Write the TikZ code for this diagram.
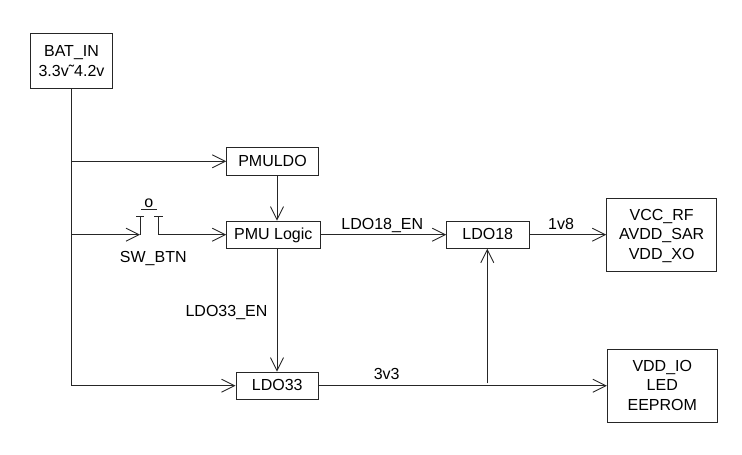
\documentclass[tikz,border=0pt]{standalone}
\usepackage{fontspec}
\setmainfont{Liberation Sans}
\usetikzlibrary{arrows.meta,calc}
\newcommand{\boxstrut}{\rule[-3pt]{0pt}{16.5pt}}
\tikzset{
  blockbox/.style={draw=black!85,line width=0.9pt,fill=white,inner sep=0pt,align=center,font=\fontsize{16}{19.3}\selectfont},
  wire/.style={draw=black!85,line width=0.9pt},
  arrowwire/.style={wire,-{Straight Barb[length=13pt,width=13pt,line width=0.9pt]}},
  lbl/.style={inner sep=0pt,anchor=base,font=\fontsize{16}{19}\selectfont},
}
\begin{document}
\begin{tikzpicture}[x=1pt,y=-1pt]
\useasboundingbox (0,0) rectangle (742,455);
\node[blockbox,minimum width=82.7pt,minimum height=55pt,font=\fontsize{16}{20}\selectfont] (bat) at (71.5,60.8) {\boxstrut BAT\_IN\\\boxstrut 3.3v˜4.2v};
\node[blockbox,minimum width=91.6pt,minimum height=27.3pt] (pmuldo) at (272.5,161.3) {\boxstrut PMULDO};
\node[blockbox,minimum width=93.3pt,minimum height=27.3pt] (pmu) at (273.3,234.7) {\boxstrut PMU Logic};
\node[blockbox,minimum width=82.3pt,minimum height=27.3pt] (ldo18) at (487.8,234.7) {\boxstrut LDO18};
\node[blockbox,minimum width=82.7pt,minimum height=27.3pt] (ldo33) at (277.3,385.7) {\boxstrut LDO33};
\node[blockbox,minimum width=110pt,minimum height=72.7pt] (vcc) at (661.7,234.7) {\boxstrut VCC\_RF\\\boxstrut AVDD\_SAR\\\boxstrut VDD\_XO};
\node[blockbox,minimum width=110pt,minimum height=73pt] (vdd) at (662.3,385.7) {\boxstrut VDD\_IO\\\boxstrut LED\\\boxstrut EEPROM};
% free points
\coordinate (j1) at (71.5,161.3);
\coordinate (j2) at (71.5,234.7);
\coordinate (j3) at (71.5,385.7);
\coordinate (swl) at (140,234.7);
\coordinate (swlt) at (140,216.3);
\coordinate (swr) at (158.3,234.7);
\coordinate (swrt) at (158.3,216.3);
\coordinate (v1) at (277,0);
\coordinate (tap) at (487.3,383.3);
% connectors
\draw[wire] (bat.south) -- (j3);
\draw[arrowwire] (j1) -- (pmuldo.west);
\draw[arrowwire] (j2) -- (swl);
\draw[arrowwire] (swr) -- (pmu.west);
\draw[arrowwire] (j3) -- (ldo33.west);
\draw[arrowwire] (v1 |- pmuldo.south) -- (v1 |- pmu.north);
\draw[arrowwire] (v1 |- pmu.south) -- (v1 |- ldo33.north);
\draw[arrowwire] (pmu.east) -- (ldo18.west);
\draw[arrowwire] (ldo18.east) -- (vcc.west);
\draw[arrowwire] (ldo33.east) -- (vdd.west);
\draw[arrowwire] (tap) -- (tap |- ldo18.south);
% switch
\draw[wire] (swl) -- (swlt);
\draw[wire] (swr) -- (swrt);
\draw[wire] (136,216.3) -- (143.7,216.3);
\draw[wire] (154.3,216.3) -- (162.7,216.3);
\draw[wire] (141,209) -- (157.3,209);
% labels
\node[lbl] (swo) at (148.7,207) {o};
\node[lbl] (swb) at (153.3,262.2) {SW\_BTN};
\node[lbl] (en18) at (382.3,229.5) {LDO18\_EN};
\node[lbl] (en33) at (226.5,316.7) {LDO33\_EN};
\node[lbl] (v18) at (561,229.5) {1v8};
\node[lbl] (v33) at (386.7,379) {3v3};
\end{tikzpicture}
\end{document}
